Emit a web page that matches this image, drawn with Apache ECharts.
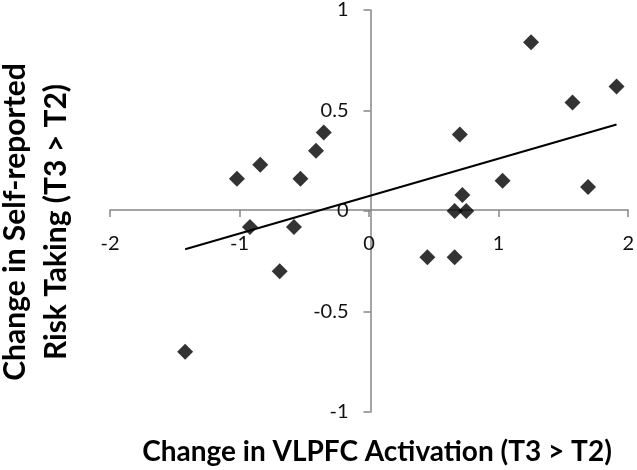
<!DOCTYPE html>
<html>
<head>
<meta charset="utf-8">
<script src="https://cdn.jsdelivr.net/npm/echarts@6/dist/echarts.min.js"></script>
<style>
html,body{margin:0;padding:0;background:#fff;}
#c{width:637px;height:470px;}
</style>
</head>
<body>
<div id="c"></div>
<script>
// Data
var xVals = [-1.02, -0.84, -0.53, -0.41, -0.35, -0.92, -0.58, -0.69, -1.42, 0.45, 0.66, 0.66, 0.75, 0.72, 0.70, 1.03, 1.25, 1.57, 1.69, 1.91];
var yVals = [0.16, 0.23, 0.16, 0.30, 0.39, -0.08, -0.08, -0.30, -0.70, -0.23, -0.23, 0.00, 0.00, 0.08, 0.38, 0.15, 0.84, 0.54, 0.12, 0.62];
var trendX = [-1.42, 1.91];
var trendY = [-0.19, 0.43];
var xTitle = 'Change in VLPFC Activation (T3 > T2)';
var yTitle = 'Change in Self-reported\nRisk Taking (T3 > T2)';

var points = xVals.map(function (x, i) { return [x, yVals[i]]; });
var trend = trendX.map(function (x, i) { return [x, trendY[i]]; });

var gridLeft = 110, gridRight = 6, gridTop = 8, gridBottom = 58;
var W = 637, H = 470;
var plotW = W - gridLeft - gridRight, plotH = H - gridTop - gridBottom;
// place axis lines at the zero of the other axis
var xOffset = -plotH * (0 - (-1)) / (1 - (-1));
var yOffset = -plotW * (0 - (-2)) / (2 - (-2));

var chart = echarts.init(document.getElementById('c'));
var axisColor = '#868686';
var labelFont = 'Lato, "Open Sans", sans-serif';
chart.setOption({
  animation: false,
  backgroundColor: '#fff',
  grid: { left: gridLeft, right: gridRight, top: gridTop, bottom: gridBottom, containLabel: false },
  xAxis: {
    type: 'value', min: -2, max: 2, interval: 1, position: 'bottom', offset: xOffset,
    axisLine: { show: true, onZero: false, lineStyle: { color: axisColor, width: 1.5 } },
    axisTick: { show: true, length: 7, lineStyle: { color: axisColor, width: 1.5 } },
    splitLine: { show: false },
    axisLabel: { margin: 24, fontSize: 20, color: '#111', fontFamily: labelFont }
  },
  yAxis: {
    type: 'value', min: -1, max: 1, interval: 0.5, position: 'left', offset: yOffset,
    axisLine: { show: true, onZero: false, lineStyle: { color: axisColor, width: 1.5 } },
    axisTick: { show: true, length: 7, lineStyle: { color: axisColor, width: 1.5 } },
    splitLine: { show: false },
    axisLabel: { margin: 22, fontSize: 20, color: '#111', fontFamily: labelFont }
  },
  graphic: [
    {
      type: 'text', x: 377, y: 452,
      style: { text: xTitle, font: 'bold 28px ' + labelFont, fill: '#000', align: 'center', verticalAlign: 'middle' }
    },
    {
      type: 'text', x: 36, y: 222, rotation: Math.PI / 2,
      style: { text: yTitle, font: 'bold 30px ' + labelFont, fill: '#000', align: 'center', verticalAlign: 'middle', lineHeight: 41 }
    }
  ],
  series: [
    {
      type: 'line', data: trend, showSymbol: false, symbol: 'none',
      lineStyle: { color: '#000', width: 2 }, z: 2
    },
    {
      type: 'scatter', data: points, symbol: 'diamond', symbolSize: 16,
      itemStyle: { color: '#000' }, z: 3
    }
  ]
});
</script>
</body>
</html>
